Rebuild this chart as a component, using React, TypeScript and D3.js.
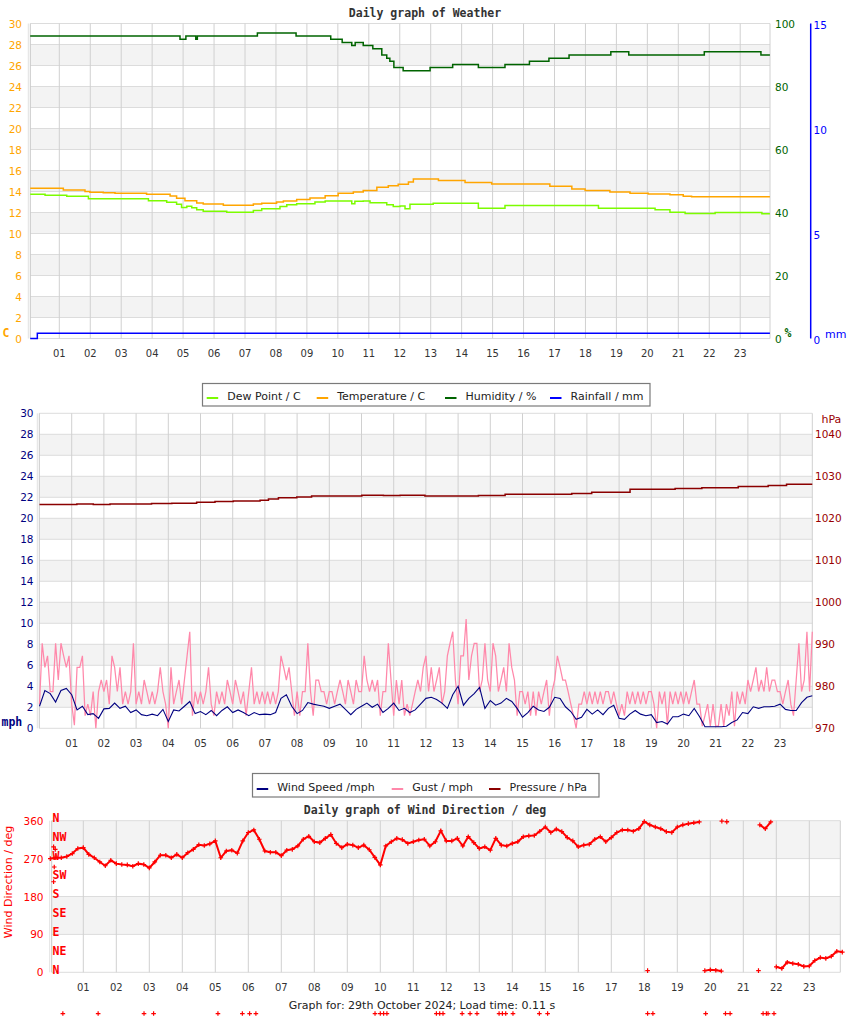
import React from "react";
import * as d3 from "d3";

type Pt = [number, number];

// ---------------- data ----------------
const hourLabels = ["01","02","03","04","05","06","07","08","09","10","11","12","13","14","15","16","17","18","19","20","21","22","23"];
const tempTicks = [0,2,4,6,8,10,12,14,16,18,20,22,24,26,28,30];
const humTicks = [0,20,40,60,80,100];
const rainTicks = [0,5,10,15];
const mphTicks = [0,2,4,6,8,10,12,14,16,18,20,22,24,26,28,30];
const hpaTicks = [970,980,990,1000,1010,1020,1030,1040];
const dirTicks = [0,90,180,270,360];
const compassLabels = ["N","NE","E","SE","S","SW","W","NW","N"];

// step series: [hour, value] change points
const temperature: Pt[] = [
  [0.06,14.3],[1.13,14.14],[1.83,14.0],[1.99,13.92],[2.42,13.88],[2.8,13.83],[3.82,13.73],[4.58,13.57],
  [4.79,13.35],[5.06,13.13],[5.44,12.9],[5.65,12.8],[6.3,12.68],[7.27,12.8],[7.54,12.87],[8.02,13.0],
  [8.24,13.1],[8.67,13.25],[9.1,13.38],[9.59,13.6],[10.01,13.83],[10.5,13.96],[10.82,14.1],[11.26,14.4],
  [11.63,14.55],[11.95,14.7],[12.28,14.9],[12.44,15.2],[13.25,15.05],[14.11,14.85],[14.97,14.71],
  [16.85,14.5],[17.56,14.25],[17.99,14.1],[18.79,13.96],[19.44,13.83],[20.03,13.77],[20.73,13.68],
  [21.16,13.55],[21.43,13.49]
];
const dewPoint: Pt[] = [
  [0.06,13.73],[0.54,13.64],[1.24,13.55],[1.94,13.3],[3.88,13.13],[4.47,12.97],[4.79,12.79],[4.95,12.47],
  [5.12,12.6],[5.28,12.45],[5.44,12.26],[5.65,12.13],[6.41,12.03],[7.27,12.2],[7.54,12.36],[8.13,12.58],
  [8.35,12.74],[8.67,12.84],[9.26,13.0],[9.59,13.1],[10.45,12.84],[10.55,13.07],[10.82,13.1],[11.04,12.94],
  [11.58,12.75],[11.79,12.58],[12.01,12.62],[12.17,12.36],[12.33,12.79],[13.08,12.88],[14.54,12.4],
  [15.4,12.67],[18.42,12.41],[20.25,12.26],[20.73,12.03],[21.22,11.9],[22.19,12.0],[23.7,11.87]
];
const humidity: Pt[] = [
  [0.06,96],[4.9,95],[5.09,96],[5.41,95],[5.46,96],[7.4,97],[8.65,96],[9.77,95],[10.14,94],[10.45,93],
  [10.56,94],[10.82,93],[11.13,92],[11.42,90],[11.58,89],[11.68,88],[11.81,86],[12.11,85],[12.98,86],
  [13.71,87],[14.54,86],[15.4,87],[16.19,88],[16.82,89],[17.47,90],[18.82,91],[19.4,90],[21.84,91],[23.67,90]
];
const rainfall: Pt[] = [[0.06,0],[0.29,0.25]];
const weatherEnd = 23.96;

const pressure: Pt[] = [
  [0,1023.3],[1.16,1023.4],[1.67,1023.3],[2.19,1023.4],[3.48,1023.5],[4.11,1023.6],[4.88,1023.8],
  [5.45,1024.0],[6.02,1024.1],[6.85,1024.3],[7.11,1024.6],[7.42,1024.9],[7.99,1025.1],[8.45,1025.3],
  [10.01,1025.5],[10.68,1025.4],[11.2,1025.5],[11.97,1025.3],[13.63,1025.4],[14.46,1025.7],[16.53,1025.9],
  [17.15,1026.2],[18.34,1026.9],[19.74,1027.1],[20.57,1027.3],[21.7,1027.6],[22.63,1027.8],[23.2,1028.1]
];
const pressureEnd = 24;

// wind speed, one value every 10 minutes from 00:00
const windSpeed = [
  2.1,3.6,3.3,2.5,3.6,3.8,3.2,1.75,2.1,1.3,
  1.4,0.95,1.85,1.9,2.4,1.9,2.1,1.5,1.75,1.3,
  1.2,1.35,1.2,1.8,0.65,1.75,1.65,2.1,2.55,1.4,
  1.6,1.3,1.7,1.2,1.7,2.05,1.5,1.75,1.5,1.2,
  1.5,1.3,1.35,1.3,1.5,2.85,3.2,2.1,1.4,1.7,
  2.45,2.3,2.2,2.1,1.9,2.1,2.3,1.8,1.3,1.8,
  2.1,2.4,2.0,2.3,1.5,1.9,2.4,1.7,1.9,1.5,
  1.75,2.3,2.85,2.95,2.75,2.4,1.9,3.2,4.0,2.2,
  2.85,3.3,3.9,1.9,2.65,2.2,2.4,2.85,2.55,1.9,
  1.05,1.5,2.1,1.75,1.6,2.0,2.95,2.85,2.05,1.6,
  0.85,1.05,1.8,1.35,1.75,1.3,1.9,2.2,0.95,0.85,
  1.35,1.7,1.35,1.2,1.3,0.55,0.65,0.4,1.1,1.1,
  1.35,1.2,1.9,1.1,0.15,0.15,0.15,0.15,0.2,0.55,
  0.8,1.5,1.4,2.05,1.9,2.05,2.05,2.1,2.3,1.8,
  1.7,1.7,2.45,2.95,3.1
];
const windStepH = 1 / 6;

// gust, one value every 5 minutes from 00:00
const gust = [
  2.3,8.1,5.8,6.9,3.5,3.5,8.1,4.6,8.1,6.9,5.8,6.9,
  2.3,0.3,5.8,5.8,6.9,1.2,2.3,1.2,3.5,0,3.5,4.6,
  3.5,4.6,2.3,6.9,5.8,3.5,5.8,2.3,3.5,2.3,3.5,8.1,
  2.3,3.5,2.3,4.6,3.5,2.3,3.5,2.3,3.5,5.8,3.5,2.3,
  0,5.8,2.3,3.5,4.6,2.3,4.6,6.9,9.2,1.2,3.5,2.3,
  3.5,2.3,3.5,5.8,2.3,1.2,3.5,2.3,3.5,2.3,4.6,3.5,
  2.3,4.6,3.5,2.3,3.5,1.2,3.5,5.8,2.3,3.5,2.3,3.5,
  2.3,3.5,2.3,3.5,2.3,3.5,6.9,5.8,4.6,5.8,3.5,1.2,
  3.5,1.2,3.5,3.5,8.1,3.5,1.2,4.6,4.6,3.5,3.5,2.3,
  3.5,3.5,2.3,3.5,4.6,3.5,2.3,4.6,3.5,2.3,4.6,3.5,
  3.5,6.9,4.6,3.5,4.6,3.5,4.6,1.2,3.5,3.5,8.1,4.6,
  1.2,4.6,2.3,4.6,1.2,2.3,1.2,2.3,3.5,4.6,3.5,5.8,
  6.9,3.5,5.8,3.5,4.6,5.8,2.3,3.5,6.9,8.1,9.2,4.6,
  2.3,6.9,6.9,10.4,4.6,6.9,8.1,8.1,3.5,4.6,8.1,4.6,
  3.5,8.1,6.9,3.5,4.6,5.8,3.5,8.1,5.8,4.6,1.2,3.5,
  3.5,2.3,3.5,1.2,3.5,1.2,3.5,2.3,3.5,4.6,1.2,3.5,
  4.6,6.9,5.8,4.6,4.6,3.5,2.3,1.2,0,2.3,2.3,3.5,
  2.3,3.5,2.3,3.5,2.3,3.5,2.3,3.5,3.5,2.3,3.5,2.3,
  1.2,2.3,1.2,3.5,2.3,3.5,2.3,3.5,2.3,3.5,2.3,3.5,
  3.5,2.3,0,3.5,2.3,3.5,0.3,3.5,2.3,3.5,2.3,3.5,
  2.3,3.5,2.3,3.5,4.6,2.3,2.3,0.2,1.2,2.3,0.2,2.3,
  0.2,0.2,2.3,0.2,2.3,1.2,3.5,0.2,3.5,2.3,3.5,2.3,
  4.6,3.5,4.6,5.8,3.5,4.6,3.5,5.8,3.5,4.6,4.6,3.5,
  3.5,2.3,3.5,4.6,2.3,1.2,4.6,8.1,3.5,4.6,9.2,3.5,9.2
];
const gustStepH = 1 / 12;

// wind direction, one value every 10 minutes (null = no reading)
const windDir: (number | null)[] = [
  270,272,272,275,282,294,296,280,272,262,
  253,266,258,256,255,252,258,256,248,262,
  278,278,272,280,272,284,292,303,301,305,
  312,272,288,290,283,312,332,338,316,288,
  285,285,277,290,292,300,316,323,310,308,
  318,327,306,296,304,302,296,302,291,273,
  255,300,310,318,315,306,310,314,316,300,
  310,336,312,312,318,300,322,308,294,298,
  290,318,302,300,306,310,322,324,325,335,
  345,332,340,334,320,312,298,302,304,316,
  322,310,320,332,338,338,335,341,358,350,
  345,341,334,332,345,350,353,355,357,4,
  6,5,3,358,null,null,null,null,null,350,
  341,357,13,9,24,21,19,14,15,28,
  35,33,38,50,48
];
const windDirStepH = 1 / 6;
const windDirExtra: Pt[] = [[0.1,298],[0.15,292],[0.12,250],[0.1,215],[18.1,4],[20.35,359],[20.5,357],[21.46,4]];
// readings drawn below the plot (off-scale)
const windDirOffHours = [0.38,1.45,2.84,3.13,5.08,5.82,6.04,6.23,9.84,10.0,10.1,10.2,11.7,11.8,11.9,12.48,12.72,12.93,13.6,13.7,13.8,14.02,14.82,15.07,18.1,18.26,19.86,20.46,20.6,21.6,21.7,21.75,21.93];
const windDirOffValue = -98;

const legend1 = [
  { label: "Dew Point / C", color: "#7cfc00" },
  { label: "Temperature / C", color: "#ffa500" },
  { label: "Humidity / %", color: "#006400" },
  { label: "Rainfall / mm", color: "#0000ff" },
];
const legend2 = [
  { label: "Wind Speed /mph", color: "#000080" },
  { label: "Gust / mph", color: "#ff88aa" },
  { label: "Pressure / hPa", color: "#8b0000" },
];

// ---------------- styles ----------------
const SANS = "'DejaVu Sans', Verdana, sans-serif";
const MONO = "'DejaVu Sans Mono', monospace";
const BAND = "#f3f3f3";
const HGRID = "#dcdcdc";
const VGRID = "#d0d0d0";

function stepPath(data: Pt[], end: number, xs: d3.ScaleLinear<number, number>, ys: d3.ScaleLinear<number, number>) {
  const pts: Pt[] = [...data, [end, data[data.length - 1][1]]];
  return d3.line<Pt>().x(d => xs(d[0])).y(d => ys(d[1])).curve(d3.curveStepAfter)(pts) || "";
}

function plusPath(x: number, y: number, r: number) {
  return `M${x - r},${y}H${x + r}M${x},${y - r}V${y + r}`;
}

export default function App() {
  // panel 1
  const p1 = { l: 30.3, r: 770, t: 23.5, b: 338.5 };
  const x1 = d3.scaleLinear().domain([0, 24]).range([28.35, 771.15]);
  const yT = d3.scaleLinear().domain([0, 30]).range([p1.b, p1.t]);
  const yH = d3.scaleLinear().domain([0, 100]).range([p1.b, p1.t]);
  const yR = d3.scaleLinear().domain([0, 15]).range([p1.b, p1.t]);

  // panel 2
  const p2 = { l: 39.3, r: 812.3, t: 413.3, b: 728.3 };
  const x2 = d3.scaleLinear().domain([0, 24]).range([39.5, 812.3]);
  const yM = d3.scaleLinear().domain([0, 30]).range([p2.b, p2.t]);
  const yP = d3.scaleLinear().domain([970, 1045]).range([p2.b, p2.t]);

  // panel 3
  const p3 = { l: 51.7, r: 840.3, t: 820.7, b: 972.3 };
  const x3 = d3.scaleLinear().domain([0, 24]).range([50.3, 842.3]);
  const yD = d3.scaleLinear().domain([0, 360]).range([p3.b, p3.t]);

  const hours = hourLabels.map((_, i) => i + 1);

  const windLine = d3.line<number>().x((_, i) => x2(i * windStepH)).y(d => yM(d))(windSpeed) || "";
  const gustLine = d3.line<number>().x((_, i) => x2(i * gustStepH)).y(d => yM(d))(gust) || "";

  // direction segments (break at gaps and 360/0 wrap)
  const segs: Pt[][] = [];
  let cur: Pt[] = [];
  const dirPts: Pt[] = [];
  windDir.forEach((v, i) => {
    if (v == null) { if (cur.length) segs.push(cur); cur = []; return; }
    const p: Pt = [i * windDirStepH, v];
    dirPts.push(p);
    if (cur.length && Math.abs(cur[cur.length - 1][1] - v) > 180) { segs.push(cur); cur = []; }
    cur.push(p);
  });
  if (cur.length) segs.push(cur);
  const dirLine = d3.line<Pt>().x(d => x3(d[0])).y(d => yD(d[1]));
  const markers = [...dirPts, ...windDirExtra, ...windDirOffHours.map(h => [h, windDirOffValue] as Pt)]
    .map(d => plusPath(x3(d[0]), yD(d[1]), 2.3)).join("");

  const bands = (ticks: number[], isGray: (lo: number, i: number) => boolean, ys: d3.ScaleLinear<number, number>, p: { l: number; r: number }) =>
    d3.pairs(ticks).map(([lo, hi], i) => isGray(lo, i) ? (
      <rect key={"b" + lo} x={p.l} y={ys(hi)} width={p.r - p.l} height={ys(lo) - ys(hi)} fill={BAND} />
    ) : null);

  const grid = (ticks: number[], ys: d3.ScaleLinear<number, number>, xs: d3.ScaleLinear<number, number>, p: { l: number; r: number; t: number; b: number }) => (
    <g>
      {ticks.map(t => <line key={"h" + t} x1={p.l} x2={p.r} y1={ys(t)} y2={ys(t)} stroke={HGRID} strokeWidth={1} />)}
      {hours.map(h => <line key={"v" + h} x1={xs(h)} x2={xs(h)} y1={p.t} y2={p.b} stroke={VGRID} strokeWidth={1} />)}
      <line x1={p.r} x2={p.r} y1={p.t} y2={p.b} stroke={VGRID} strokeWidth={1} />
      <line x1={p.l - 2} x2={p.l - 2} y1={p.t} y2={p.b} stroke="#e2e2e2" strokeWidth={1} />
      <line x1={p.l} x2={p.l} y1={p.t} y2={p.b} stroke="#c8c8c8" strokeWidth={1} />
    </g>
  );

  const hourText = (xs: d3.ScaleLinear<number, number>, y: number) =>
    hours.map((h, i) => (
      <text key={"t" + h} x={xs(h)} y={y} textAnchor="middle" fontFamily={SANS} fontSize={10} fill="#333">{hourLabels[i]}</text>
    ));

  return (
    <div style={{ position: "absolute", left: 0, top: 0 }}>
      <svg width={850} height={1017} style={{ display: "block", background: "#fff" }}>
        {/* ---------- Panel 1 ---------- */}
        <text x={425} y={17} textAnchor="middle" fontFamily={MONO} fontWeight="bold" fontSize={11.5} fill="#333">Daily graph of Weather</text>
        {bands(tempTicks, lo => (lo / 2) % 2 === 1, yT, p1)}
        {grid(tempTicks, yT, x1, p1)}
        <path d={stepPath(dewPoint, weatherEnd, x1, yT)} fill="none" stroke="#7cfc00" strokeWidth={1.5} />
        <path d={stepPath(temperature, weatherEnd, x1, yT)} fill="none" stroke="#ffa500" strokeWidth={1.5} />
        <path d={stepPath(humidity, weatherEnd, x1, yH)} fill="none" stroke="#006400" strokeWidth={1.5} />
        <path d={stepPath(rainfall, weatherEnd, x1, yR)} fill="none" stroke="#0000ff" strokeWidth={1.5} />
        {tempTicks.map(t => (
          <text key={"lt" + t} x={22} y={yT(t)} dominantBaseline="central" textAnchor="end" fontFamily={SANS} fontSize={10.5} fill="#ffa500">{t}</text>
        ))}
        <text x={2.5} y={337} fontFamily={MONO} fontWeight="bold" fontSize={11.5} fill="#ffa500">C</text>
        {humTicks.map(t => (
          <text key={"lh" + t} x={775} y={yH(t)} dominantBaseline="central" fontFamily={SANS} fontSize={10.5} fill="#006400">{t}</text>
        ))}
        <text x={784.5} y={337} fontFamily={MONO} fontWeight="bold" fontSize={11.5} fill="#006400">%</text>
        <line x1={810.7} x2={810.7} y1={p1.t} y2={p1.b} stroke="#0000ff" strokeWidth={1.5} />
        {rainTicks.map(t => (
          <text key={"lr" + t} x={813.5} y={yR(t) + 1} dominantBaseline="central" fontFamily={SANS} fontSize={10.5} fill="#0000ff">{t}</text>
        ))}
        <text x={825} y={337.5} fontFamily={SANS} fontSize={11} fill="#0000ff">mm</text>
        {hourText(x1, 357)}

        {/* legend 1 */}
        <rect x={202.5} y={383.5} width={447.5} height={22.5} fill="#fff" stroke="#7a7a7a" strokeWidth={1.2} />
        {legend1.map((it, i) => {
          const sx = [206.7, 316.7, 445, 550][i];
          return (
            <g key={it.label}>
              <line x1={sx} x2={sx + 11.5} y1={398} y2={398} stroke={it.color} strokeWidth={2} />
              <text x={sx + 20.5} y={400} fontFamily={SANS} fontSize={11} fill="#222">{it.label}</text>
            </g>
          );
        })}

        {/* ---------- Panel 2 ---------- */}
        {bands(mphTicks, lo => (lo / 2) % 2 === 1, yM, p2)}
        {grid(mphTicks, yM, x2, p2)}
        <path d={stepPath(pressure, pressureEnd, x2, yP)} fill="none" stroke="#8b0000" strokeWidth={1.5} />
        <path d={gustLine} fill="none" stroke="#ff88aa" strokeWidth={1.25} />
        <path d={windLine} fill="none" stroke="#000080" strokeWidth={1.1} />
        {mphTicks.map(t => (
          <text key={"lm" + t} x={33.5} y={yM(t)} dominantBaseline="central" textAnchor="end" fontFamily={SANS} fontSize={10.5} fill="#000080">{t}</text>
        ))}
        <text x={1.5} y={726} fontFamily={MONO} fontWeight="bold" fontSize={11.5} fill="#000080">mph</text>
        {hpaTicks.map(t => (
          <text key={"lp" + t} x={815} y={yP(t)} dominantBaseline="central" fontFamily={SANS} fontSize={10.5} fill="#990000">{t}</text>
        ))}
        <text x={821.5} y={423} fontFamily={SANS} fontSize={11} fill="#990000">hPa</text>
        {hourText(x2, 747)}

        {/* legend 2 */}
        <rect x={252.5} y={773.5} width={346.5} height={23.5} fill="#fff" stroke="#7a7a7a" strokeWidth={1.2} />
        {legend2.map((it, i) => {
          const sx = [256.7, 391.7, 489][i];
          return (
            <g key={it.label}>
              <line x1={sx} x2={sx + 11.5} y1={789} y2={789} stroke={it.color} strokeWidth={2} />
              <text x={sx + 20.5} y={791} fontFamily={SANS} fontSize={11} fill="#222">{it.label}</text>
            </g>
          );
        })}

        {/* ---------- Panel 3 ---------- */}
        <text x={425} y={814} textAnchor="middle" fontFamily={MONO} fontWeight="bold" fontSize={11.5} fill="#333">Daily graph of Wind Direction / deg</text>
        {bands(dirTicks, (_, i) => i % 2 === 1, yD, p3)}
        {grid(dirTicks, yD, x3, p3)}
        {segs.map((s, i) => <path key={"s" + i} d={dirLine(s) || ""} fill="none" stroke="#ff0000" strokeWidth={2} />)}
        <path d={markers} fill="none" stroke="#ff0000" strokeWidth={1.2} />
        {dirTicks.map(t => (
          <text key={"ld" + t} x={43.5} y={yD(t)} dominantBaseline="central" textAnchor="end" fontFamily={SANS} fontSize={10.5} fill="#ff0000">{t}</text>
        ))}
        {compassLabels.map((c, i) => (
          <text key={"c" + i} x={52.5} y={yD(i * 45) - 2.5} dominantBaseline="central" fontFamily={MONO} fontWeight="bold" fontSize={11.5} fill="#ff0000">{c}</text>
        ))}
        <text transform={`translate(12,${882}) rotate(-90)`} textAnchor="middle" fontFamily={SANS} fontSize={11} fill="#ff0000">Wind Direction / deg</text>
        {hourText(x3, 991)}
        <text x={422} y={1008.5} textAnchor="middle" fontFamily={SANS} fontSize={11} fill="#222">Graph for: 29th October 2024; Load time: 0.11 s</text>
      </svg>
    </div>
  );
}
